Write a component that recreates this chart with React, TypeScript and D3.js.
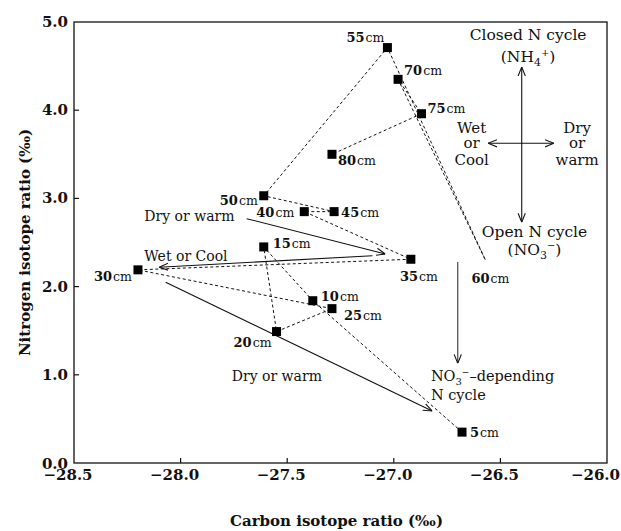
import React from 'react';
import * as d3 from 'd3';

// depth profile, in depth order (65 cm not sampled)
const depths = ['5cm', '10cm', '15cm', '20cm', '25cm', '30cm', '35cm', '40cm', '45cm', '50cm', '55cm', '60cm', '70cm', '75cm', '80cm'];
const carbon = [-26.68, -27.38, -27.61, -27.55, -27.29, -28.2, -26.92, -27.42, -27.28, -27.61, -27.03, -26.57, -26.98, -26.87, -27.29];
const nitrogen = [0.35, 1.84, 2.45, 1.49, 1.75, 2.19, 2.31, 2.85, 2.85, 3.03, 4.71, 2.3, 4.35, 3.96, 3.5];
const noMarker = ['60cm'];

const xTicks = [-28.5, -28.0, -27.5, -27.0, -26.5, -26.0];
const yTicks = [0, 1, 2, 3, 4, 5];

// trend arrows [x1, y1, x2, y2] in data units
const trendArrows = [
  { x1: -27.69, y1: 2.77, x2: -27.04, y2: 2.37 },
  { x1: -27.1, y1: 2.35, x2: -28.1, y2: 2.22 },
  { x1: -28.07, y1: 2.05, x2: -26.82, y2: 0.59 },
];
const trendTexts = [
  { text: 'Dry or warm', x: -28.17, y: 2.74 },
  { text: 'Wet or Cool', x: -28.17, y: 2.29 },
  { text: 'Dry or warm', x: -27.76, y: 0.93 },
];

// label placement around each point (px offsets)
const labelPos: Record<string, { dx: number; dy: number; anchor: string }> = {
  '5cm': { dx: 8, dy: 5, anchor: 'start' },
  '10cm': { dx: 8, dy: 0, anchor: 'start' },
  '15cm': { dx: 9, dy: 1, anchor: 'start' },
  '20cm': { dx: -5, dy: 15, anchor: 'end' },
  '25cm': { dx: 12, dy: 11, anchor: 'start' },
  '30cm': { dx: -6, dy: 11, anchor: 'end' },
  '35cm': { dx: 8, dy: 22, anchor: 'middle' },
  '40cm': { dx: -10, dy: 5, anchor: 'end' },
  '45cm': { dx: 7, dy: 5, anchor: 'start' },
  '50cm': { dx: -6, dy: 9, anchor: 'end' },
  '55cm': { dx: -3, dy: -6, anchor: 'end' },
  '60cm': { dx: -14, dy: 23, anchor: 'start' },
  '70cm': { dx: 6, dy: -4, anchor: 'start' },
  '75cm': { dx: 6, dy: -1, anchor: 'start' },
  '80cm': { dx: 6, dy: 11, anchor: 'start' },
};

const W = 621;
const H = 531;
const margin = { top: 22, right: 14, bottom: 68, left: 74 };
const serif = '"DejaVu Serif", serif';

export default function App() {
  const x = d3.scaleLinear().domain([-28.5, -26.0]).range([margin.left, W - margin.right]);
  const y = d3.scaleLinear().domain([0, 5]).range([H - margin.bottom, margin.top]);
  const fmt = d3.format('.1f');

  const pts = depths.map((d, i) => ({ depth: d, cx: x(carbon[i]), cy: y(nitrogen[i]) }));
  const line = d3.line<{ cx: number; cy: number }>().x(d => d.cx).y(d => d.cy);

  const sq = 9;
  const x0 = x.range()[0], x1 = x.range()[1];
  const yb = y.range()[0], yt = y.range()[1];

  const textStyle = { fontFamily: serif, fontSize: 14, fill: '#111' };
  const tickStyle = { fontFamily: serif, fontSize: 15, fontWeight: 'bold', fill: '#111' };

  return (
    <svg width={W} height={H} style={{ position: 'absolute', left: 0, top: 0, background: '#fff' }}>
      <defs>
        <marker id="head" viewBox="0 0 10 10" refX="10" refY="5" markerWidth="9" markerHeight="9" orient="auto-start-reverse" markerUnits="userSpaceOnUse">
          <path d="M0,1 L10,5 L0,9" fill="none" stroke="#111" strokeWidth={1.2} />
        </marker>
      </defs>

      {/* frame */}
      <rect x={x0} y={yt} width={x1 - x0} height={yb - yt} fill="none" stroke="#111" strokeWidth={1.3} />

      {/* x ticks */}
      {xTicks.map((t, i) => {
        const last = i === xTicks.length - 1;
        return (
          <g key={'x' + t}>
            {t > -28.5 && t < -26.0 && <line x1={x(t)} x2={x(t)} y1={yb} y2={yb - 5} stroke="#111" strokeWidth={1.2} />}
            <text x={last ? W - 1 : x(t) - 6} y={yb + 17} textAnchor={last ? 'end' : 'middle'} style={tickStyle}>{fmt(t)}</text>
          </g>
        );
      })}
      {/* y ticks */}
      {yTicks.map(t => (
        <g key={'y' + t}>
          {t > 0 && t < 5 && <line x1={x0} x2={x0 + 5} y1={y(t)} y2={y(t)} stroke="#111" strokeWidth={1.2} />}
          <text x={x0 - 6} y={y(t) + (t === 0 ? 6 : 5)} textAnchor="end" style={tickStyle}>{fmt(t)}</text>
        </g>
      ))}

      {/* axis titles */}
      <text x={(x0 + x1) / 2 - 4} y={H - 5} textAnchor="middle" style={tickStyle}>
        Carbon isotope ratio (‰)
      </text>
      <text transform={`translate(30,${(yt + yb) / 2}) rotate(-90)`} textAnchor="middle" style={tickStyle}>
        Nitrogen isotope ratio (‰)
      </text>

      {/* depth path */}
      <path d={line(pts) || ''} fill="none" stroke="#111" strokeWidth={1} strokeDasharray="3,2.5" />

      {/* trend arrows */}
      {trendArrows.map((a, i) => (
        <line key={'a' + i} x1={x(a.x1)} y1={y(a.y1)} x2={x(a.x2)} y2={y(a.y2)} stroke="#111" strokeWidth={1.1} markerEnd="url(#head)" />
      ))}
      {trendTexts.map((t, i) => (
        <text key={'t' + i} x={x(t.x)} y={y(t.y)} style={textStyle}>{t.text}</text>
      ))}

      {/* markers + labels */}
      {pts.map(p => (
        <g key={p.depth}>
          {!noMarker.includes(p.depth) && <rect x={p.cx - sq / 2} y={p.cy - sq / 2} width={sq} height={sq} fill="#000" />}
          <text x={p.cx + labelPos[p.depth].dx} y={p.cy + labelPos[p.depth].dy} textAnchor={labelPos[p.depth].anchor}
            style={{ fontFamily: serif, fontSize: 13, fontWeight: 'bold', fill: '#111' }}>
            {p.depth.replace('cm', '')}
            <tspan style={{ fontSize: 12.5, fontWeight: 'normal' }} dx={1}>cm</tspan>
          </text>
        </g>
      ))}

      {/* N cycle diagram */}
      <line x1={x(-26.4)} x2={x(-26.4)} y1={y(2.73)} y2={y(4.49)} stroke="#111" strokeWidth={1.1} markerStart="url(#head)" markerEnd="url(#head)" />
      <line x1={x(-26.558)} x2={x(-26.249)} y1={y(3.625)} y2={y(3.625)} stroke="#111" strokeWidth={1.1} markerStart="url(#head)" markerEnd="url(#head)" />
      <line x1={x(-26.7)} x2={x(-26.7)} y1={y(2.28)} y2={y(1.13)} stroke="#333" strokeWidth={1.1} markerEnd="url(#head)" />

      <text x={x(-26.37)} y={y(4.8)} textAnchor="middle" style={{ ...textStyle, fontSize: 15.5 }}>Closed N cycle</text>
      <text x={x(-26.37)} y={y(4.55)} textAnchor="middle" style={{ ...textStyle, fontSize: 15.5 }}>
        (NH<tspan dy={4} style={{ fontSize: 11 }}>4</tspan><tspan dy={-10} style={{ fontSize: 10 }}>+</tspan><tspan dy={6}>)</tspan>
      </text>

      {['Wet', 'or', 'Cool'].map((s, i) => (
        <text key={'w' + s} x={x(-26.635)} y={y([3.74, 3.57, 3.38][i])} textAnchor="middle" style={{ ...textStyle, fontSize: 15 }}>{s}</text>
      ))}
      {['Dry', 'or', 'warm'].map((s, i) => (
        <text key={'d' + s} x={x(-26.14)} y={y([3.74, 3.57, 3.38][i])} textAnchor="middle" style={{ ...textStyle, fontSize: 15 }}>{s}</text>
      ))}

      <text x={x(-26.34)} y={y(2.56)} textAnchor="middle" style={{ ...textStyle, fontSize: 15.5 }}>Open N cycle</text>
      <text x={x(-26.34)} y={y(2.36)} textAnchor="middle" style={{ ...textStyle, fontSize: 15.5 }}>
        (NO<tspan dy={4} style={{ fontSize: 11 }}>3</tspan><tspan dy={-10} style={{ fontSize: 10 }}>−</tspan><tspan dy={6}>)</tspan>
      </text>

      <text x={x(-26.826)} y={y(0.93)} style={{ ...textStyle, fontSize: 14.5 }}>
        NO<tspan dy={4} style={{ fontSize: 10 }}>3</tspan><tspan dy={-10} style={{ fontSize: 9 }}>−</tspan><tspan dy={6}>–depending</tspan>
      </text>
      <text x={x(-26.826)} y={y(0.71)} style={{ ...textStyle, fontSize: 14.5 }}>N cycle</text>
    </svg>
  );
}
